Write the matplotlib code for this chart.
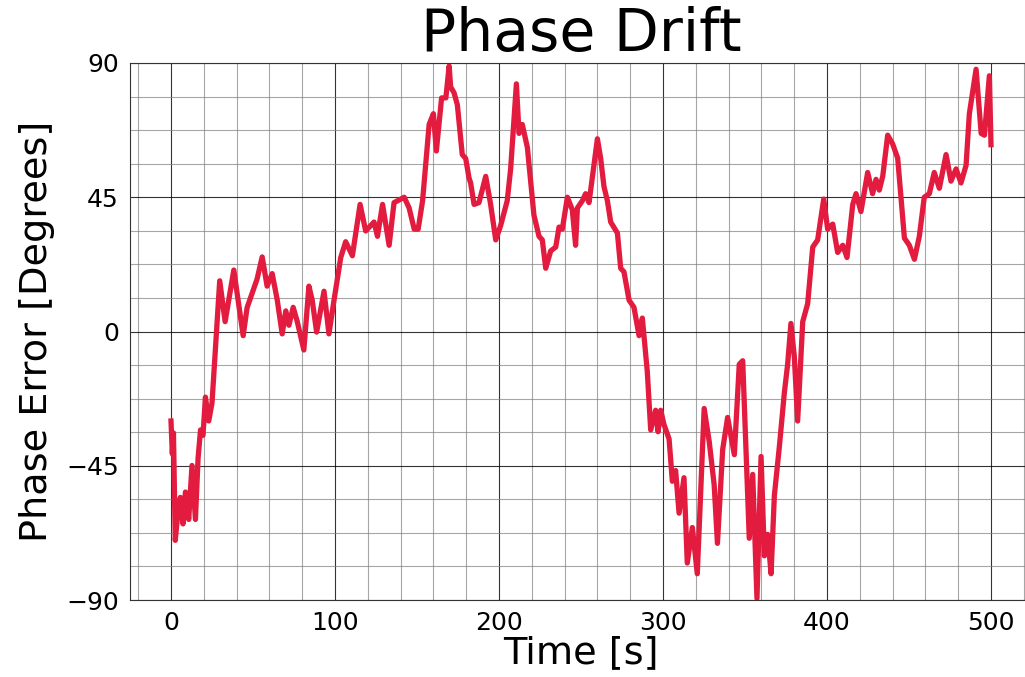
import numpy as np
import matplotlib
matplotlib.use("Agg")
import matplotlib.pyplot as plt
from matplotlib.ticker import MultipleLocator, AutoMinorLocator

# values
time_s = [0, 0.8, 1.5, 2.6, 4.0, 5.7, 7.3, 8.8, 10.8, 12.8, 14.9, 16.5, 18.0, 19.5,
          21.0, 23.0, 25.0, 29.7, 33.0, 38.3, 44.0, 46.4, 49.5, 52.5, 55.6, 58.6,
          61.7, 64.8, 67.8, 70.0, 71.9, 74.5, 77.0, 81.0, 84.1, 86.1, 88.8, 93.3,
          96.3, 99.4, 103.5, 106.5, 110.6, 115.3, 118.7, 123.8, 125.9, 129.0,
          133.0, 136.0, 142.2, 145.2, 148.3, 150.7, 153.4, 157.4, 160.0, 161.8,
          165.0, 167.6, 169.6, 170.5, 172.6, 174.6, 177.6, 179.7, 181.7, 182.7,
          184.8, 187.8, 191.9, 194.9, 198.0, 201.0, 205.0, 207.1, 210.6, 212.2,
          214.2, 217.3, 221.3, 224.4, 226.4, 228.5, 231.5, 234.6, 236.6, 238.6,
          241.7, 244.7, 246.7, 247.8, 250.8, 252.8, 254.9, 256.9, 260.0, 262.0,
          264.0, 266.1, 268.1, 272.2, 274.2, 276.2, 279.3, 282.3, 285.4, 287.4,
          290.4, 292.5, 295.5, 297.0, 298.6, 300.6, 303.7, 305.7, 307.7, 309.8,
          312.8, 314.8, 317.9, 320.9, 325.1, 328.2, 331.2, 333.2, 336.4, 339.4,
          343.5, 346.5, 348.6, 352.6, 354.7, 357.3, 359.8, 361.8, 363.8, 365.9,
          367.9, 371.0, 374.0, 376.0, 378.0, 380.1, 382.1, 385.2, 388.2, 391.3,
          394.3, 398.0, 400.4, 403.5, 406.5, 409.6, 412.2, 415.7, 417.7, 420.7,
          424.8, 427.8, 429.9, 431.9, 434.0, 437.0, 440.0, 443.1, 447.2, 450.2,
          453.3, 456.3, 459.3, 462.4, 465.4, 468.5, 472.6, 475.6, 478.7, 481.7,
          484.8, 486.8, 490.9, 494.0, 496.0, 499.0, 500.0]
phase_deg = [-30, -41, -34, -70, -62, -55.6, -64.5, -53.8, -63, -44.9, -63, -42.5,
             -33, -34.8, -22, -30, -24, 17, 3.3, 20.6, -1.4, 8, 12.9, 17.6, 25,
             15.2, 19.4, 10.5, -0.8, 6.9, 2.1, 8.1, 3.3, -6.2, 15.2, 10.5, -0.2,
             13.5, -0.8, 10.5, 24.8, 30.1, 25.4, 42.6, 33.7, 36.7, 31.9, 42.6,
             28.9, 43.2, 45, 41.4, 34.3, 34.3, 43.8, 69.4, 73, 60.5, 78.3, 78.3,
             89, 82, 80, 76, 59.3, 58, 51.5, 49.8, 42.6, 43.2, 52, 42.6, 30.7,
             35.5, 43.8, 54.5, 83, 66.4, 69.4, 61.7, 39, 31.9, 30.7, 21.2, 27,
             28.3, 35, 34.3, 45, 40.8, 28.9, 41.4, 43.8, 46.2, 43.2, 51.5, 64.6,
             58, 48.6, 43.8, 36.7, 33, 21.2, 20, 10.5, 8.1, -1.4, 4.5, -13.3,
             -33, -26.4, -33.6, -26.4, -31.2, -36, -50.2, -46.6, -60.9, -49,
             -77.6, -65.7, -81.2, -25.8, -37, -51.4, -71, -39.5, -28.8, -41.3,
             -11, -9.8, -69.3, -47.9, -89.5, -41.9, -75.2, -68, -81.2, -55, -38.3,
             -20.5, -11, 2.7, -8.6, -30, 3.3, 9.3, 28.3, 30.7, 44.4, 34.3, 36,
             26.5, 28.9, 24.8, 42.6, 46.2, 40.2, 53.3, 46.2, 51, 47.4, 52.1, 65.8,
             62.9, 58.1, 31.3, 28.9, 24.2, 31.9, 45, 46.2, 53.3, 48, 59.3, 50.4,
             54.5, 49.8, 55.7, 73, 87.9, 66.4, 65.8, 85.7, 62.6]
y_ticks = [-90, -45, 0, 45, 90]

fig = plt.figure(figsize=(10.25, 6.77), dpi=100)
ax = fig.add_axes([130 / 1025, 77 / 677, 902 / 1025, 537 / 677])

ax.plot(time_s, phase_deg, color="#e31b3f", linewidth=3.8)

ax.set_xlim(-25, 525)
ax.set_ylim(-90, 90)
ax.set_yticks(y_ticks)
ax.xaxis.set_major_locator(MultipleLocator(100))
ax.xaxis.set_minor_locator(AutoMinorLocator(5))
ax.yaxis.set_minor_locator(AutoMinorLocator(4))

ax.grid(which="major", color="black", linewidth=0.8, alpha=0.8)
ax.grid(which="minor", color="gray", linewidth=0.8, alpha=0.7)
ax.set_axisbelow(True)
ax.tick_params(which="both", length=0, labelsize=18, pad=8)
for s in ax.spines.values():
    s.set_color("#333333")

ax.set_title("Phase Drift", fontsize=42, pad=4)
ax.set_xlabel("Time [s]", fontsize=27.5, labelpad=0)
ax.set_ylabel("Phase Error [Degrees]", fontsize=27.5, labelpad=8)

fig.savefig("out.png", dpi=100)
